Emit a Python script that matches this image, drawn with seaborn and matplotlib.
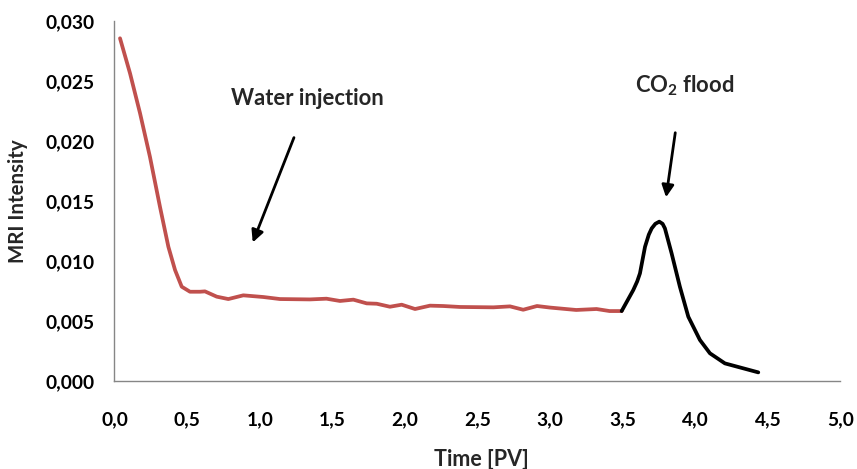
import seaborn as sns
from matplotlib import pyplot as plt
import matplotlib.ticker as mtick

# water injection stage (red)
water_pv = [0.038, 0.107, 0.176, 0.244, 0.313, 0.371, 0.417, 0.463, 0.52, 0.589,
            0.623, 0.704, 0.784, 0.887, 1.025, 1.14, 1.346, 1.46, 1.553, 1.645,
            1.737, 1.806, 1.897, 1.978, 2.07, 2.173, 2.264, 2.38, 2.61, 2.724,
            2.815, 2.91, 3.0, 3.18, 3.32, 3.41, 3.493]
water_mri = [0.02856, 0.02564, 0.02231, 0.01869, 0.01453, 0.01119, 0.00925,
             0.00786, 0.00744, 0.00744, 0.00747, 0.00703, 0.00683, 0.00714,
             0.0070, 0.00683, 0.0068, 0.00686, 0.00667, 0.00678, 0.00647,
             0.00644, 0.00619, 0.00636, 0.0060, 0.00628, 0.00625, 0.00617,
             0.00614, 0.00622, 0.00594, 0.00625, 0.00612, 0.00592, 0.0060,
             0.00583, 0.00583]

# CO2 flood stage (black)
co2_pv = [3.493, 3.573, 3.60, 3.619, 3.654, 3.68, 3.70, 3.725, 3.752, 3.775,
          3.791, 3.837, 3.894, 3.952, 4.032, 4.101, 4.204, 4.434]
co2_mri = [0.00583, 0.00758, 0.0083, 0.00897, 0.01119, 0.0122, 0.01272, 0.0131,
           0.01328, 0.0131, 0.01272, 0.01064, 0.00786, 0.00536, 0.00342,
           0.00231, 0.00147, 0.00072]

sns.set_theme(style="white")
plt.rcParams['font.family'] = ['Lato', 'DejaVu Sans']
plt.rcParams['font.weight'] = 'bold'
plt.rcParams['mathtext.fontset'] = 'custom'
plt.rcParams['mathtext.rm'] = 'Lato:bold'
plt.rcParams['mathtext.bf'] = 'Lato:bold'
plt.rcParams['mathtext.default'] = 'rm'

fig, ax = plt.subplots(figsize=(8.57, 4.69), dpi=100)
fig.subplots_adjust(left=0.1336, right=0.9807, bottom=0.1876, top=0.9552)

sns.lineplot(x=water_pv, y=water_mri, color="#C0504D", linewidth=2.7, sort=False, ax=ax)
sns.lineplot(x=co2_pv, y=co2_mri, color="black", linewidth=2.7, sort=False, ax=ax)
for ln in ax.lines:
    ln.set_solid_joinstyle('round')
    ln.set_solid_capstyle('round')

ax.set_xlim(0, 5)
ax.set_ylim(0, 0.030)
ax.xaxis.set_major_locator(mtick.MultipleLocator(0.5))
ax.yaxis.set_major_locator(mtick.MultipleLocator(0.005))
ax.xaxis.set_major_formatter(mtick.FuncFormatter(lambda v, p: f"{v:.1f}".replace('.', ',')))
ax.yaxis.set_major_formatter(mtick.FuncFormatter(lambda v, p: f"{v:.3f}".replace('.', ',')))

for side in ['top', 'right']:
    ax.spines[side].set_visible(False)
for side in ['left', 'bottom']:
    ax.spines[side].set_color('#868686')
    ax.spines[side].set_linewidth(1.0)
ax.tick_params(axis='both', direction='out', length=5, width=1, color='#868686',
               labelsize=13.8, labelcolor='black')
ax.tick_params(axis='x', pad=16.5)
ax.tick_params(axis='y', pad=9.5)

ax.set_xlabel("")
ax.set_ylabel("")
fig.text(481 / 857, 1 - 459 / 469, "Time [PV]", ha='center', va='center',
         fontsize=15.5, fontweight='bold')
fig.text(18 / 857, 1 - 201 / 469, "MRI Intensity", ha='center', va='center',
         rotation=90, fontsize=14.8, fontweight='bold')

ax.annotate("", xy=(0.945, 0.01133), xytext=(1.243, 0.0205),
            arrowprops=dict(arrowstyle='-|>', color='black', lw=2, mutation_scale=18))
ax.text(1.329, 0.0230, "Water injection", ha='center', va='baseline',
        fontsize=15.8, fontweight='bold')

ax.annotate("", xy=(3.796, 0.01508), xytext=(3.865, 0.02092),
            arrowprops=dict(arrowstyle='-|>', color='black', lw=2, mutation_scale=18))
ax.text(3.924, 0.02403, "CO$_2$ flood", ha='center', va='baseline',
        fontsize=15.8, fontweight='bold')

plt.savefig("out.png", dpi=100)
